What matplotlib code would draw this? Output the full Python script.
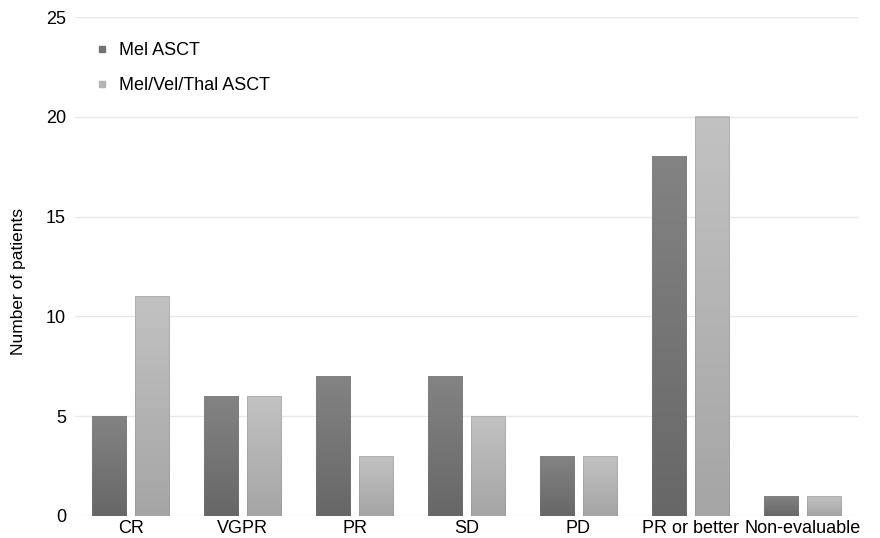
import numpy as np
import matplotlib
matplotlib.use("Agg")
import matplotlib.pyplot as plt
from matplotlib.colors import LinearSegmentedColormap

categories = ["CR", "VGPR", "PR", "SD", "PD", "PR or better", "Non-evaluable"]
mel = [5, 6, 7, 7, 3, 18, 1]
mel_vel_thal = [11, 6, 3, 5, 3, 20, 1]
series_names = ["Mel ASCT", "Mel/Vel/Thal ASCT"]

plt.rcParams["font.family"] = ["Liberation Sans", "DejaVu Sans"]

fig = plt.figure(figsize=(8.8, 5.38), dpi=100)
ax = fig.add_axes([0.0852, 0.0409, 0.890, 0.9275])

x = np.arange(len(categories))
w = 0.305
off = 0.192
dark_top, dark_bot = "#838383", "#676767"
light_top, light_bot = "#c2c2c2", "#a5a5a5"

def grad_bars(bars, top, bot):
    cmap = LinearSegmentedColormap.from_list("g", [bot, top])
    grad = np.linspace(0, 1, 256).reshape(-1, 1)
    for b in bars:
        x0 = b.get_x()
        x1 = x0 + b.get_width()
        h = b.get_height()
        ax.imshow(grad, cmap=cmap, extent=(x0, x1, 0, h), origin="lower",
                  aspect="auto", zorder=2)
        b.set_facecolor("none")
        b.set_edgecolor((0.5, 0.5, 0.5, 0.3))
        b.set_linewidth(0.6)

b1 = ax.bar(x - off, mel, w, color=dark_top, zorder=3, label=series_names[0])
b2 = ax.bar(x + off, mel_vel_thal, w, color=light_top, zorder=3, label=series_names[1])
grad_bars(b1, dark_top, dark_bot)
grad_bars(b2, light_top, light_bot)

ax.set_xlim(-0.5, len(categories) - 0.5)
ax.set_ylim(0, 25)
ax.set_yticks([0, 5, 10, 15, 20, 25])
ax.set_xticks(x)
ax.set_xticklabels(categories, fontsize=13)
ax.tick_params(axis="y", labelsize=13, length=0, pad=6.5)
ax.tick_params(axis="x", length=0, pad=3)
ax.grid(axis="y", color="#e8e8e8", linewidth=1, zorder=0)
ax.set_axisbelow(True)
for s in ax.spines.values():
    s.set_visible(False)
ax.set_ylabel("Number of patients", fontsize=12.5)
ax.yaxis.set_label_coords(-0.062, 0.47)

h1 = plt.Line2D([], [], marker="s", linestyle="None", markersize=5, color="#737373")
h2 = plt.Line2D([], [], marker="s", linestyle="None", markersize=5, color="#b3b3b3")
ax.legend([h1, h2], series_names, loc="upper left", bbox_to_anchor=(0.012, 0.975),
          frameon=False, fontsize=13, handlelength=0.5, handletextpad=0.7,
          labelspacing=1.0, borderaxespad=0.3)

fig.savefig("out.png", dpi=100)
